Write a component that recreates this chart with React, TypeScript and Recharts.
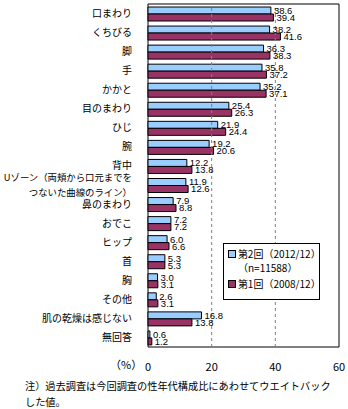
import { Bar, BarChart, LabelList, ReferenceArea, ReferenceLine, XAxis, YAxis } from 'recharts';

const categories = [
  '口まわり',
  'くちびる',
  '脚',
  '手',
  'かかと',
  '目のまわり',
  'ひじ',
  '腕',
  '背中',
  'Uゾーン（両頬から口元までを\nつないた曲線のライン）',
  '鼻のまわり',
  'おでこ',
  'ヒップ',
  '首',
  '胸',
  'その他',
  '肌の乾燥は感じない',
  '無回答',
];
const round2 = [38.6, 38.2, 36.3, 35.8, 35.2, 25.4, 21.9, 19.2, 12.2, 11.9, 7.9, 7.2, 6.0, 5.3, 3.0, 2.6, 16.8, 0.6];
const round1 = [39.4, 41.6, 38.3, 37.2, 37.1, 26.3, 24.4, 20.6, 13.8, 12.6, 8.8, 7.2, 6.6, 5.3, 3.1, 3.1, 13.8, 1.2];
const xTicks = [0, 20, 40, 60];

const data = categories.map((name, i) => ({ name, round2: round2[i], round1: round1[i] }));

const FONT = '"Noto Sans CJK JP", "Noto Sans", sans-serif';
const BLUE = '#99CCFF';
const PURPLE = '#993366';

function CategoryTick({ x, y, payload }: any) {
  const lines = String(payload.value).split('\n');
  const start = -((lines.length - 1) * 15) / 2;
  return (
    <text x={x} y={y} textAnchor="end" fontSize={lines.length > 1 ? 9.4 : 10} fontFamily={FONT} fill="#000">
      {lines.map((l, i) => (
        <tspan key={i} x={x} dy={i === 0 ? start + 3.5 : 15}>
          {l}
        </tspan>
      ))}
    </text>
  );
}

const fmt = (v: any) => Number(v).toFixed(1);

export default function App() {
  return (
    <div style={{ position: 'absolute', left: 0, top: 0, width: 348, height: 409, background: '#fff', fontFamily: FONT }}>
      <BarChart
        width={348}
        height={409}
        data={data}
        layout="vertical"
        margin={{ top: 4, right: 9, bottom: 32, left: 0 }}
        barGap={0}
        barSize={7}
      >
        <XAxis
          type="number"
          domain={[0, 60]}
          ticks={xTicks}
          axisLine={false}
          tickLine={false}
          tickMargin={10}
          height={30}
          tick={{ fontSize: 11, fill: '#000', fontFamily: FONT }}
        />
        <YAxis
          type="category"
          dataKey="name"
          width={148}
          axisLine={false}
          tickLine={false}
          tickMargin={10}
          interval={0}
          tick={<CategoryTick />}
        />
        <ReferenceLine x={20} stroke="#808080" strokeDasharray="3 3" />
        <ReferenceLine x={40} stroke="#808080" strokeDasharray="3 3" />
        <Bar dataKey="round2" fill={BLUE} stroke="#000" strokeWidth={1} isAnimationActive={false}>
          <LabelList dataKey="round2" position="right" offset={3} formatter={fmt} fontSize={9.5} fill="#000" fontFamily="Liberation Sans, sans-serif" />
        </Bar>
        <Bar dataKey="round1" fill={PURPLE} stroke="#000" strokeWidth={1} isAnimationActive={false}>
          <LabelList dataKey="round1" position="right" offset={3} formatter={fmt} fontSize={9.5} fill="#000" fontFamily="Liberation Sans, sans-serif" />
        </Bar>
        <ReferenceArea x1={0} x2={60} fill="none" stroke="#000" strokeWidth={1} ifOverflow="extendDomain" />
      </BarChart>

      <div style={{ position: 'absolute', left: 110, top: 357, fontSize: 11, lineHeight: '14px' }}>（%）</div>

      <div
        style={{
          position: 'absolute',
          left: 223,
          top: 243,
          width: 97,
          height: 57,
          border: '1px solid #000',
          background: '#fff',
          fontSize: 10,
          lineHeight: '14px',
          padding: '3px 0 0 4px',
          boxSizing: 'border-box',
        }}
      >
        <div style={{ display: 'flex', alignItems: 'center' }}>
          <span style={{ width: 6, height: 6, background: BLUE, border: '1px solid #000', marginRight: 2 }} />
          第2回（2012/12）
        </div>
        <div style={{ paddingLeft: 10 }}>（n=11588）</div>
        <div style={{ display: 'flex', alignItems: 'center', marginTop: 2 }}>
          <span style={{ width: 6, height: 6, background: PURPLE, border: '1px solid #000', marginRight: 2 }} />
          第1回（2008/12）
        </div>
      </div>

      <div style={{ position: 'absolute', left: 25, top: 378, fontSize: 10.2, lineHeight: '16px', whiteSpace: 'nowrap' }}>
        注）過去調査は今回調査の性年代構成比にあわせてウエイトバック
        <br />
        した値。
      </div>
    </div>
  );
}
